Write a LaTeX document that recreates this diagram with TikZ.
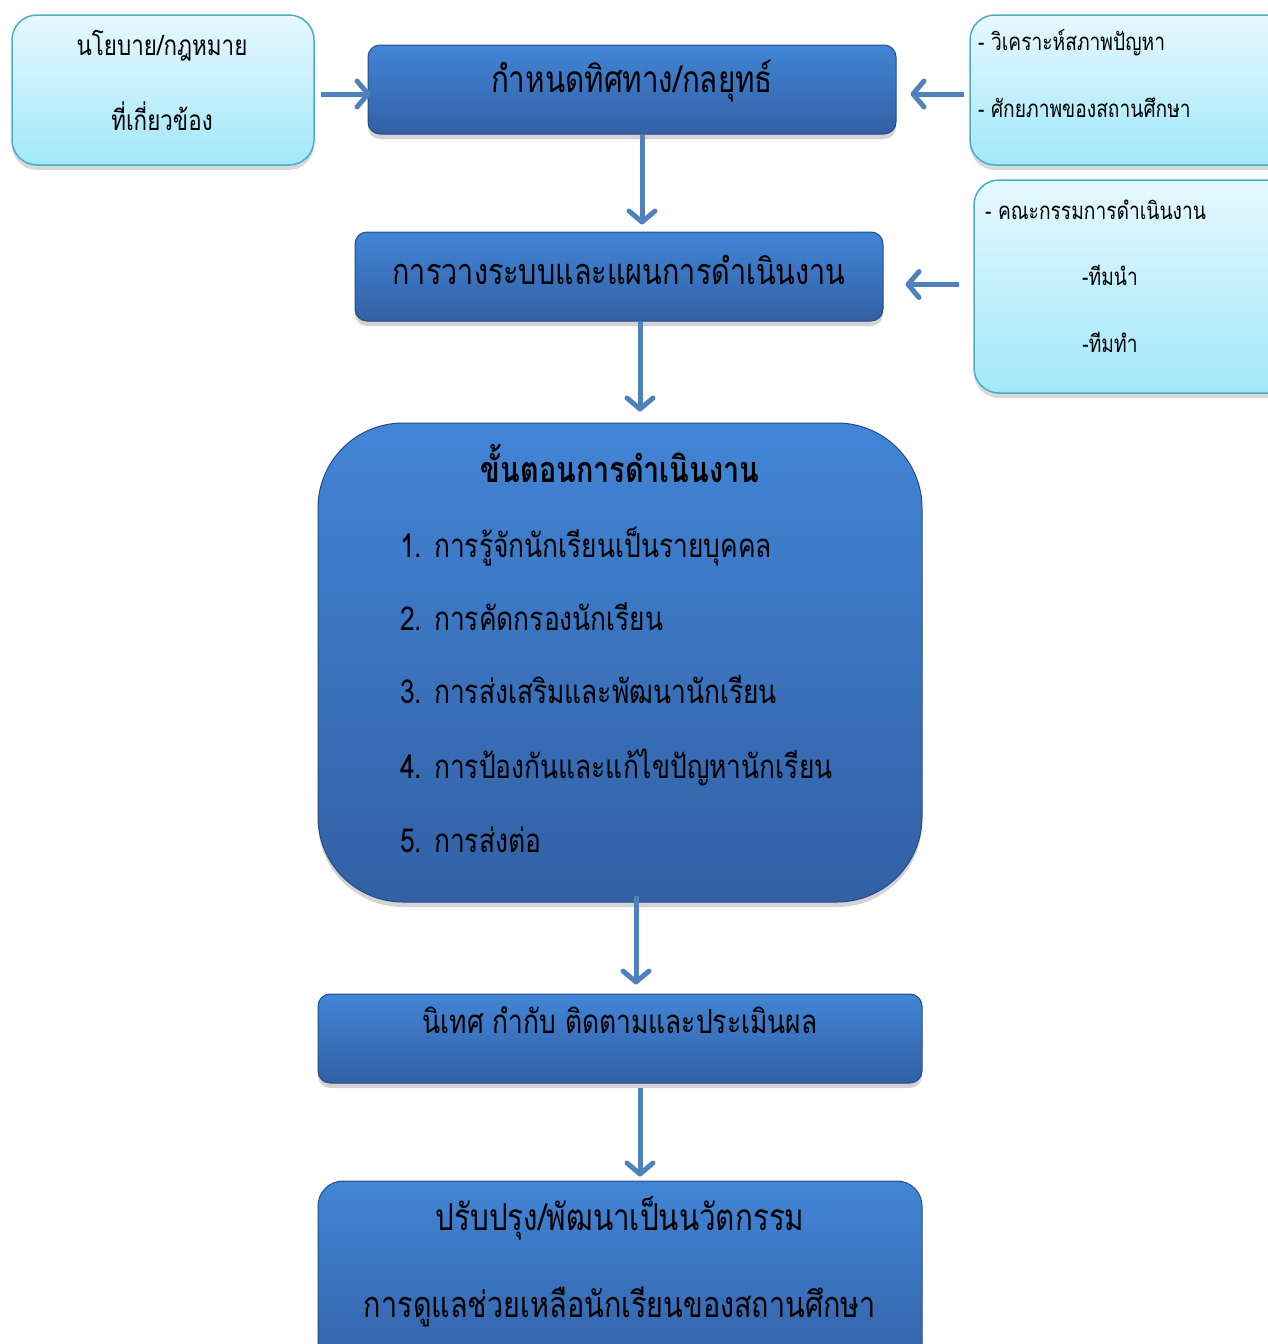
\documentclass[tikz,border=0pt]{standalone}
\usepackage{fontspec}
\setmainfont{Loma}[Script=Thai, FakeStretch=0.8]
\usetikzlibrary{arrows.meta, shadows}
\definecolor{darktop}{RGB}{66,133,214}
\definecolor{darkbottom}{RGB}{50,96,164}
\definecolor{darkline}{RGB}{38,76,134}
\definecolor{lighttop}{RGB}{230,248,255}
\definecolor{lightbottom}{RGB}{162,232,250}
\definecolor{lightline}{RGB}{75,172,198}
\definecolor{arrowblue}{RGB}{79,129,189}

\begin{document}
\begin{tikzpicture}[
        x=1pt, y=-1pt,
        darkbox/.style={rectangle, rounded corners=12pt, draw=darkline, line width=1pt, top color=darktop, bottom color=darkbottom, drop shadow={shadow xshift=0pt, shadow yshift=-5pt, opacity=0.35}},
        lightbox/.style={rectangle, rounded corners=25pt, draw=lightline, line width=1.5pt, top color=lighttop, bottom color=lightbottom, drop shadow={shadow xshift=0pt, shadow yshift=-5pt, opacity=0.3}},
        boxtext/.style={anchor=base, inner sep=0pt, font=\fontsize{37}{37}\selectfont},
        smalltext/.style={anchor=base, inner sep=0pt, font=\fontsize{24}{24}\selectfont},
        itemtext/.style={anchor=base west, inner sep=0pt, font=\fontsize{33}{33}\selectfont},
        flowarrow/.style={draw=arrowblue, line width=5pt, -{Straight Barb[length=11pt, width=26pt, round]}}
    ]
        \useasboundingbox (0,0) rectangle (1268,1344);
        \clip (0,0) rectangle (1268,1344);
        % Boxes
        \node (policy) [lightbox, minimum width=302pt, minimum height=150pt] at (163,90) {};
        \node (analysis) [lightbox, minimum width=330pt, minimum height=150pt] at (1135,90) {};
        \node (committee) [lightbox, minimum width=330pt, minimum height=213pt] at (1139,286.5) {};
        \node (direction) [darkbox, minimum width=528pt, minimum height=89pt] at (632,89.5) {};
        \node (system) [darkbox, minimum width=528pt, minimum height=89pt] at (619,276.5) {};
        \node (steps) [darkbox, rounded corners=85pt, minimum width=604pt, minimum height=479pt] at (620,662.5) {};
        \node (monitoring) [darkbox, minimum width=604pt, minimum height=89pt] at (620,1038.5) {};
        \node (improve) [darkbox, rounded corners=25pt, minimum width=604pt, minimum height=200pt] at (620,1281) {};
        % Texts
        \node (policyone) [smalltext, font=\fontsize{28}{28}\selectfont] at (162,55) {นโยบาย/กฎหมาย};
        \node (policytwo) [smalltext, font=\fontsize{28}{28}\selectfont] at (162,130) {ที่เกี่ยวข้อง};
        \node (analysisone) [smalltext, anchor=base west] at (978,50) {- วิเคราะห์สภาพปัญหา};
        \node (analysistwo) [smalltext, anchor=base west] at (978,117) {- ศักยภาพของสถานศึกษา};
        \node (committeeone) [smalltext, anchor=base west] at (985,219) {- คณะกรรมการดำเนินงาน};
        \node (leadteam) [smalltext] at (1110,285) {-ทีมนำ};
        \node (workteam) [smalltext] at (1110,352) {-ทีมทำ};
        \node (directiontext) [boxtext] at (632,92) {กำหนดทิศทาง/กลยุทธ์};
        \node (systemtext) [boxtext, font=\fontsize{36}{36}\selectfont] at (619,284) {การวางระบบและแผนการดำเนินงาน};
        \node (stepstitle) [boxtext, font=\fontsize{36}{36}\selectfont\bfseries] at (620,482) {ขั้นตอนการดำเนินงาน};
        \node (stepone) [itemtext] at (400,557) {1. การรู้จักนักเรียนเป็นรายบุคคล};
        \node (steptwo) [itemtext] at (400,630) {2. การคัดกรองนักเรียน};
        \node (stepthree) [itemtext] at (400,703) {3. การส่งเสริมและพัฒนานักเรียน};
        \node (stepfour) [itemtext] at (400,778) {4. การป้องกันและแก้ไขปัญหานักเรียน};
        \node (stepfive) [itemtext] at (400,852) {5. การส่งต่อ};
        \node (monitoringtext) [boxtext, font=\fontsize{33}{33}\selectfont] at (620,1033) {นิเทศ กำกับ ติดตามและประเมินผล};
        \node (improveone) [boxtext] at (620,1230) {ปรับปรุง/พัฒนาเป็นนวัตกรรม};
        \node (improvetwo) [boxtext, font=\fontsize{36}{36}\selectfont] at (620,1317) {การดูแลช่วยเหลือนักเรียนของสถานศึกษา};
        % Arrows
        \draw[flowarrow, shorten <=6pt, shorten >=-3pt] ([yshift=-4pt]policy.east) -- ([yshift=-4pt]policy.east -| direction.west);
        \draw[flowarrow, shorten <=5pt, shorten >=14pt] ([yshift=-4pt]analysis.west) -- ([yshift=-4pt]analysis.west -| direction.east);
        \draw[flowarrow, shorten <=14pt, shorten >=22pt] ([yshift=2pt]committee.west) -- ([yshift=2pt]committee.west -| system.east);
        \draw[flowarrow, shorten <=0pt, shorten >=7pt] ([xshift=10pt]direction.south) -- ([xshift=23pt]system.north);
        \draw[flowarrow, shorten <=0pt, shorten >=11pt] ([xshift=21pt]system.south) -- ([xshift=20pt]steps.north);
        \draw[flowarrow, shorten <=-7pt, shorten >=9pt] ([xshift=16pt]steps.south) -- ([xshift=16pt]monitoring.north);
        \draw[flowarrow, shorten <=4pt, shorten >=4pt] ([xshift=20pt]monitoring.south) -- ([xshift=20pt]improve.north);
    \end{tikzpicture}
\end{document}
